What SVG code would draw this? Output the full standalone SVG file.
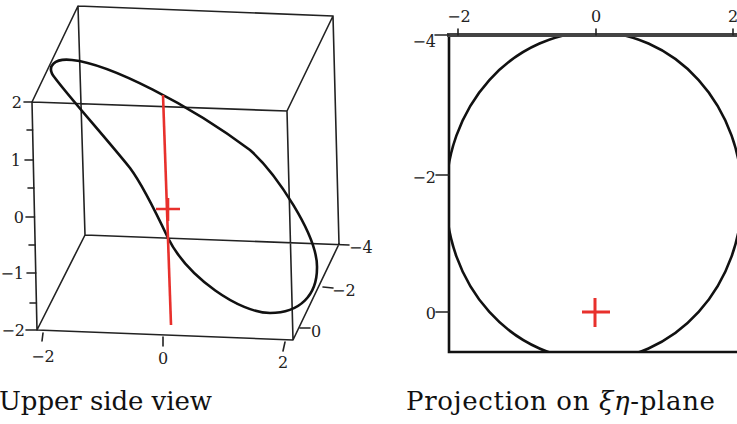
<svg xmlns="http://www.w3.org/2000/svg" width="737" height="424" viewBox="0 0 737 424">
<style>
.box{stroke:#222;stroke-width:1.6;fill:none;stroke-linecap:round}
.curve{stroke:#111;stroke-width:2.6;fill:none}
.red{stroke:#e8302c;stroke-width:2.6;fill:none;stroke-linecap:butt}
.lbl{font-family:'DejaVu Serif',serif;font-size:16px;fill:#222}
.cap{font-family:'DejaVu Serif',serif;font-size:26px;fill:#111}
</style>
<defs>
<clipPath id="frameClip"><rect x="449" y="35" width="288" height="317"/></clipPath>
</defs>
<rect width="737" height="424" fill="#fff"/>

<g id="left-panel">
<g id="box">
<path class="box" d="M78,6 L333,16 M78,6 L32,102 M32,102 L287,111 M333,16 L287,111 M78,6 L85,235 M333,16 L339,244 M32,102 L37,330 M287,111 L293,340 M85,235 L349,245 M37,330 L293,340 M37,330 L85,235 M293,340 L339,244"/>
</g>
<g id="axis-ticks">
<path class="box" d="M24,102 L32,102 M27,130 L32.6,130 M25,160 L33.3,160 M28,188 L33.9,188 M26,217 L34.5,217 M29,245 L35.1,245 M27,273 L35.8,273 M30,303 L36.4,303 M26,330 L37,330 M43,333 L42,341 M163,337 L163,346 M285,342 L283,351 M323,287 L333,288 M300,328 L310,328"/>
</g>
<g id="axis-labels">
<text class="lbl" x="22" y="108" text-anchor="end">2</text>
<text class="lbl" x="21" y="166" text-anchor="end">1</text>
<text class="lbl" x="24" y="223" text-anchor="end">0</text>
<text class="lbl" x="24" y="279" text-anchor="end">−1</text>
<text class="lbl" x="25" y="336" text-anchor="end">−2</text>
<text class="lbl" x="43" y="362" text-anchor="middle">−2</text>
<text class="lbl" x="163" y="364" text-anchor="middle">0</text>
<text class="lbl" x="283" y="368" text-anchor="middle">2</text>
<text class="lbl" x="349" y="253">−4</text>
<text class="lbl" x="332" y="296">−2</text>
<text class="lbl" x="311" y="337">0</text>
</g>
<g id="curve3d">
<path class="curve" d="M55,78 C45,66 55,58 72,60 C110,64 190,105 250,150 C275,172 318,235 317,268 C317,295 300,313 270,313 C240,313 188,278 168,238 C160,221 142,184 130,168 C105,137 70,98 55,78 Z"/>
</g>
<g id="red-axis">
<path class="red" d="M163,95 L171,325"/>
<path class="red" d="M156,209 L180,209 M168,198 L168,221"/>
</g>
</g>

<g id="right-panel">
<g id="ellipse">
<ellipse class="curve" cx="594" cy="196" rx="148" ry="164" clip-path="url(#frameClip)"/>
</g>
<g id="frame">
<path stroke="#111" stroke-width="2.6" fill="none" d="M449,34 L449,352 L737,352"/>
<path stroke="#444" stroke-width="4" fill="none" d="M447,35 L737,35"/>
</g>
<g id="ticks2">
<path class="box" d="M458,29 L458,35 M596,29 L596,35 M733,29 L733,35 M435,35 L449,35 M436,175 L449,175 M436,312 L449,312"/>
</g>
<g id="labels2">
<text class="lbl" x="459" y="22" text-anchor="middle">−2</text>
<text class="lbl" x="596" y="22" text-anchor="middle">0</text>
<text class="lbl" x="733" y="22" text-anchor="middle">2</text>
<text class="lbl" x="436" y="47" text-anchor="end">−4</text>
<text class="lbl" x="436" y="183" text-anchor="end">−2</text>
<text class="lbl" x="436" y="319" text-anchor="end">0</text>
</g>
<g id="red-cross">
<path stroke="#e8302c" stroke-width="3" d="M582,312 L610,312 M595,298 L595,327"/>
</g>
</g>

<g id="captions">
<text class="cap" x="-1" y="410" textLength="213">Upper side view</text>
<text class="cap" x="406" y="410" textLength="309">Projection on <tspan font-style="italic">ξη</tspan>-plane</text>
</g>
</svg>
